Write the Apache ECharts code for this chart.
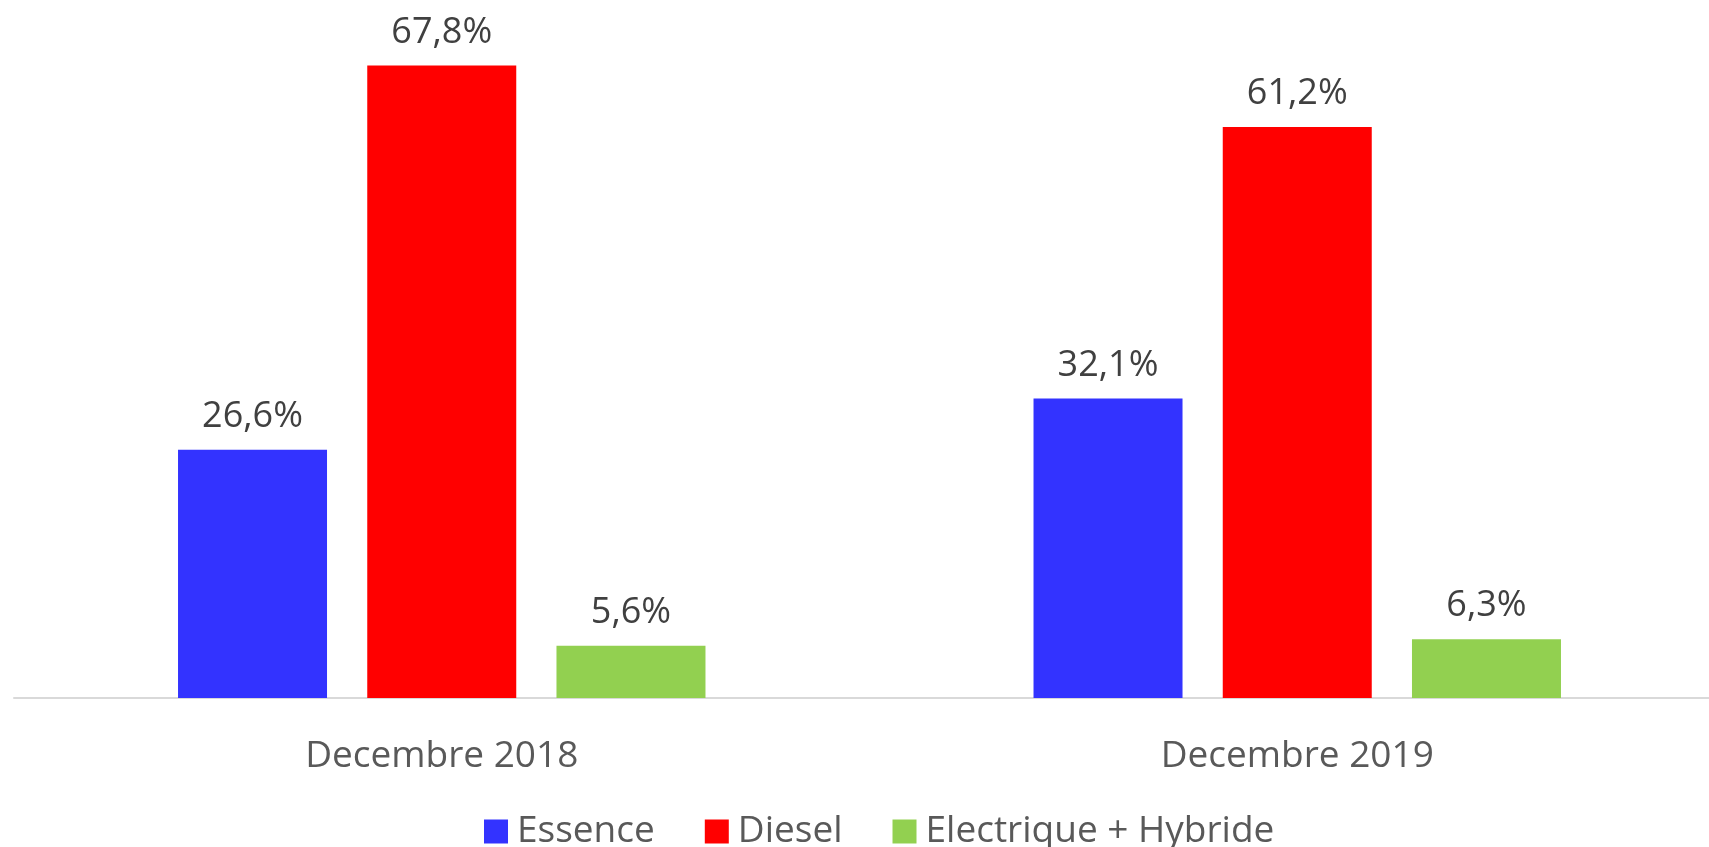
<!DOCTYPE html>
<html>
<head>
<meta charset="utf-8">
<script src="https://cdn.jsdelivr.net/npm/echarts@6/dist/echarts.min.js"></script>
<style>
  html, body { margin: 0; padding: 0; background: #fff; overflow: hidden; }
  #chart { width: 1726px; height: 847px; }
</style>
</head>
<body>
<div id="chart"></div>
<script>
const categories = ['Decembre 2018', 'Decembre 2019']
const essence = [26.6, 32.1]
const diesel = [67.8, 61.2]
const electrique = [5.6, 6.3]

const chart = echarts.init(document.getElementById('chart'))

// libellé au-dessus des barres, virgule décimale
const label = {
  show: true,
  position: 'top',
  distance: 15,
  fontFamily: 'Open Sans',
  fontSize: 36,
  color: '#404040',
  formatter: p => p.value.toFixed(1).replace('.', ',') + '%'
}

const option = {
  animation: false,
  textStyle: { fontFamily: 'Open Sans' },
  grid: { left: 14, top: 45, width: 1711, height: 653 },
  legend: {
    left: 479,
    top: 808,
    itemWidth: 24,
    itemHeight: 24,
    itemGap: 50,
    icon: 'rect',
    textStyle: { fontFamily: 'Open Sans', fontSize: 37, color: '#595959', padding: [0, 0, 0, 4] },
    data: ['Essence', 'Diesel', 'Electrique + Hybride']
  },
  xAxis: {
    type: 'category',
    data: categories,
    axisLine: { lineStyle: { color: '#d9d9d9', width: 2 } },
    axisTick: { show: false },
    axisLabel: { fontFamily: 'Open Sans', fontSize: 37, color: '#595959', margin: 40 }
  },
  yAxis: {
    type: 'value',
    min: 0,
    max: 70,
    show: false,
    splitLine: { show: false }
  },
  series: [
    { name: 'Essence', type: 'bar', data: essence, barWidth: 149, barGap: '27%', itemStyle: { color: '#3333ff' }, label: label },
    { name: 'Diesel', type: 'bar', data: diesel, barWidth: 149, barGap: '27%', itemStyle: { color: '#ff0000' }, label: label },
    { name: 'Electrique + Hybride', type: 'bar', data: electrique, barWidth: 149, barGap: '27%', itemStyle: { color: '#92d050' }, label: label }
  ]
}
chart.setOption(option)
</script>
</body>
</html>
